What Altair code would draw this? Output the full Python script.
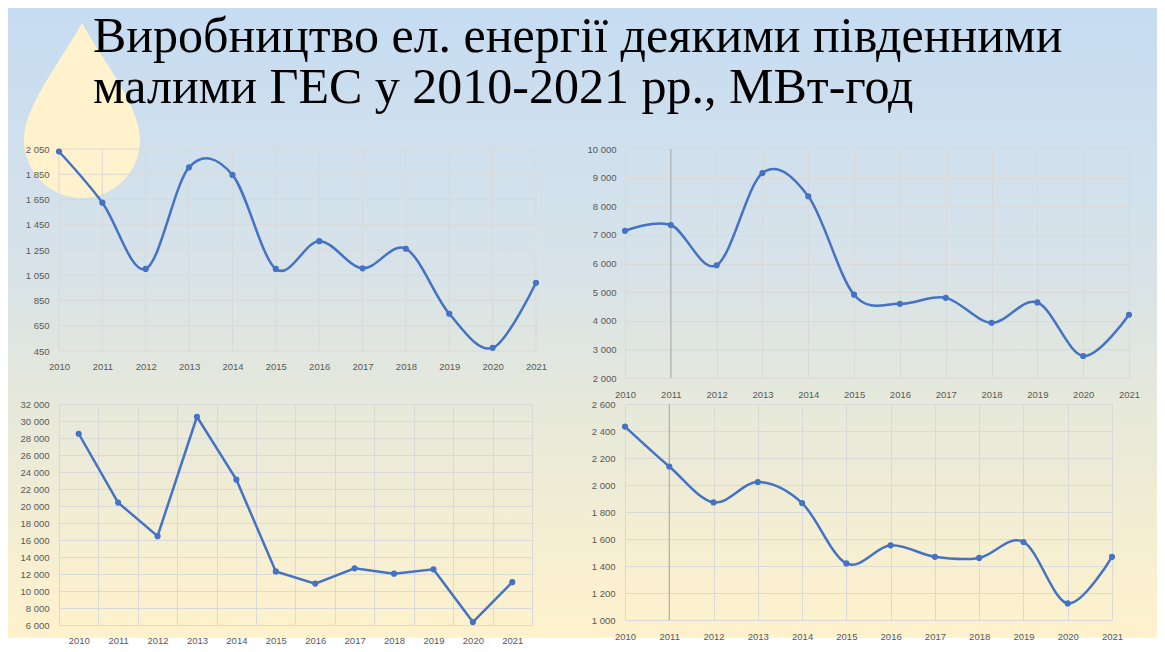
import altair as alt
import pandas as pd

# ---------------- data ----------------
years = list(range(2010, 2022))
s1 = [2030, 1625, 1100, 1905, 1845, 1100, 1320, 1105, 1260, 745, 475, 990]
s2 = [7140, 7345, 5940, 9160, 8350, 4910, 4590, 4800, 3930, 4640, 2770, 4210]
s3 = [28500, 20400, 16450, 30500, 23100, 12300, 10870, 12670, 12040, 12550, 6340, 11040]
s4 = [2433, 2137, 1871, 2022, 1866, 1419, 1553, 1468, 1460, 1578, 1123, 1468]

ticks1 = [450, 650, 850, 1050, 1250, 1450, 1650, 1850, 2050]
ticks2 = [2000, 3000, 4000, 5000, 6000, 7000, 8000, 9000, 10000]
ticks3 = [6000, 8000, 10000, 12000, 14000, 16000, 18000, 20000, 22000, 24000,
          26000, 28000, 30000, 32000]
ticks4 = [1000, 1200, 1400, 1600, 1800, 2000, 2200, 2400, 2600]

marker_year = [2011]

title_lines = ["Виробництво ел. енергії деякими південними",
               "малими ГЕС у 2010-2021 рр., МВт-год"]

# ---------------- style ----------------
LINE = "#4472c4"
GRID = "#d9d9d9"
LABEL = "#595959"
LFONT = "Liberation Sans"
LSIZE = 9.5
FMT = "replace(format(datum.value, ','), ',', ' ')"


def x_q(padx, grid=True, z=0):
    return alt.X(
        "year:Q",
        scale=alt.Scale(domain=[years[0], years[-1]], nice=False, zero=False),
        axis=alt.Axis(values=years, format="d", grid=grid, gridColor=GRID,
                      domain=False, ticks=False, labelPadding=padx, title=None,
                      labelFlush=False, labelOverlap=False, zindex=z),
    )


def y_q(ticks, pad, grid=True, z=0):
    return alt.Y(
        "value:Q",
        scale=alt.Scale(domain=[ticks[0], ticks[-1]], nice=False, zero=False),
        axis=alt.Axis(values=ticks, labelExpr=FMT, grid=grid, gridColor=GRID,
                      domain=False, ticks=False, labelPadding=pad, title=None,
                      labelFlush=False, labelOverlap=False, zindex=z),
    )


def series_layers(vals, x, y):
    base = alt.Chart(pd.DataFrame({"year": years, "value": vals}))
    line = base.mark_line(color=LINE, strokeWidth=2.5,
                          interpolate="cardinal").encode(x=x, y=y)
    pts = base.mark_point(filled=True, size=38, color=LINE, opacity=1).encode(
        x=x, y=y)
    return line, pts


def marker_rule(x):
    return (alt.Chart(pd.DataFrame({"year": marker_year}))
            .mark_rule(color="#a6a6a6", strokeWidth=1)
            .encode(x=x))


# ---------------- panel 1 (carries the slide background + title) ----------------
grad = alt.Gradient(
    gradient="linear", x1=0, y1=0, x2=0, y2=1,
    stops=[
        alt.GradientStop(color="#c6dcf2", offset=0),
        alt.GradientStop(color="#d8e3e8", offset=0.42),
        alt.GradientStop(color="#e4e8dc", offset=0.6),
        alt.GradientStop(color="#fff2cc", offset=1),
    ],
)
one = pd.DataFrame({"k": [0]})
bg_rect = alt.Chart(one).mark_rect(fill=grad).encode(
    x=alt.value(-51), x2=alt.value(1098), y=alt.value(-141), y2=alt.value(489))
drop_path = ("M0,-1 C0.25,-0.55 0.663,-0.05 0.663,0.337 "
             "A0.663,0.663 0 0 1 -0.663,0.337 "
             "C-0.663,-0.05 -0.25,-0.55 0,-1 Z")
drop = alt.Chart(one).mark_point(
    shape=drop_path, size=30625, filled=True, fill="#fff2cc", opacity=1,
    strokeWidth=0).encode(x=alt.value(23), y=alt.value(-38.5))
title = alt.Chart(one).mark_text(
    text=title_lines, align="left", baseline="alphabetic",
    font="Liberation Serif", fontSize=50, lineHeight=51,
    color="#000000").encode(x=alt.value(34), y=alt.value(-97))

x1 = x_q(10, grid=False, z=1)
y1 = y_q(ticks1, 10, grid=False, z=1)
grid_v1 = (alt.Chart(pd.DataFrame({"year": years}))
           .mark_rule(color=GRID, strokeWidth=1).encode(x=x1))
grid_h1 = (alt.Chart(pd.DataFrame({"value": ticks1}))
           .mark_rule(color=GRID, strokeWidth=1).encode(y=y1))
l1, pt1 = series_layers(s1, x1, y1)
p1 = alt.layer(bg_rect, drop, title, grid_v1, grid_h1, l1, pt1).properties(
    width=477, height=202)

# ---------------- panel 2 ----------------
x2 = x_q(11)
l2, pt2 = series_layers(s2, x2, y_q(ticks2, 9))
p2 = alt.layer(marker_rule(x2), l2, pt2).properties(width=504, height=229)

# ---------------- panel 3 (straight lines, band axis) ----------------
df3 = pd.DataFrame({"year": years, "value": s3})
x3 = alt.X(
    "year:O",
    scale=alt.Scale(type="band", paddingInner=0, paddingOuter=0),
    axis=alt.Axis(tickBand="extent", grid=True, gridColor=GRID, domain=False,
                  ticks=False, labelAngle=0, labelPadding=10, title=None),
)
y3 = y_q(ticks3, 10)
b3 = alt.Chart(df3)
p3 = alt.layer(
    b3.mark_line(color=LINE, strokeWidth=2.5).encode(x=x3, y=y3),
    b3.mark_point(filled=True, size=38, color=LINE, opacity=1).encode(x=x3, y=y3),
).properties(width=473, height=221)

# ---------------- panel 4 ----------------
x4 = x_q(11)
l4, pt4 = series_layers(s4, x4, y_q(ticks4, 10))
p4 = alt.layer(marker_rule(x4), l4, pt4).properties(width=487, height=216)

chart = alt.concat(
    p1, p2, p3, p4, columns=2, align="each", bounds="flush",
    spacing={"row": 26, "column": 89},
).properties(padding=0).configure_view(strokeWidth=0).configure_axis(
    labelColor=LABEL, labelFont=LFONT, labelFontSize=LSIZE,
    labelOverlap=False, labelFlush=False,
)

chart.save("out.html", embed_options={"renderer": "svg", "actions": False})
